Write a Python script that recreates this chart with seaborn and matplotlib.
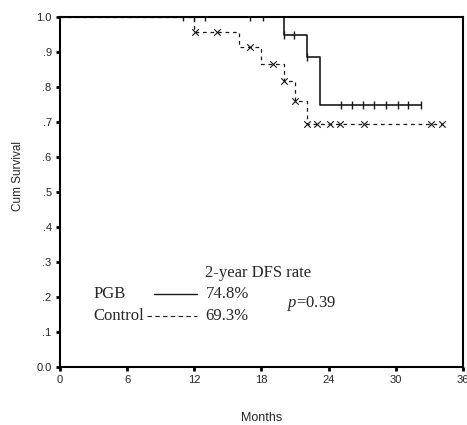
import numpy as np
import pandas as pd
import matplotlib
matplotlib.use("Agg")
import matplotlib.pyplot as plt
import seaborn as sns

# Kaplan-Meier step data
pgb_times = [0, 20.0, 22.1, 23.2, 32.3]
pgb_surv = [1.0, 0.949, 0.886, 0.748, 0.748]
pgb_censored = [11.0, 12.0, 13.0, 17.0, 18.1, 20.0, 20.9, 22.1, 25.1, 26.1, 27.1,
                28.1, 29.1, 30.2, 31.1, 32.3]

ctrl_times = [0, 12.0, 16.0, 18.0, 20.0, 21.0, 22.1, 34.1]
ctrl_surv = [1.0, 0.957, 0.913, 0.867, 0.818, 0.760, 0.693, 0.693]
ctrl_censored = [12.1, 14.0, 17.0, 19.0, 20.0, 21.0, 22.1, 23.0, 24.1, 25.0,
                 27.2, 33.2, 34.1]

y_ticks = [0.0, 0.1, 0.2, 0.3, 0.4, 0.5, 0.6, 0.7, 0.8, 0.9, 1.0]
y_labels = ["0.0", ".1", ".2", ".3", ".4", ".5", ".6", ".7", ".8", ".9", "1.0"]
x_ticks = [0, 6, 12, 18, 24, 30, 36]


def surv_at(times, surv, t):
    idx = np.searchsorted(times, t, side="right") - 1
    return np.array(surv)[idx]


sns.set_style("ticks")
plt.rcParams["font.family"] = ["Liberation Sans", "DejaVu Sans"]
plt.rcParams["mathtext.fontset"] = "custom"
plt.rcParams["mathtext.it"] = "Liberation Serif:italic"
plt.rcParams["mathtext.rm"] = "Liberation Serif"

fig = plt.figure(figsize=(4.67, 4.25), dpi=100)
ax = fig.add_axes([0.1285, 0.1365, 0.8625, 0.8235])

lines = pd.concat([
    pd.DataFrame({"time": pgb_times, "surv": pgb_surv, "group": "PGB"}),
    pd.DataFrame({"time": ctrl_times, "surv": ctrl_surv, "group": "Control"}),
])

sns.lineplot(data=lines[lines.group == "PGB"], x="time", y="surv", ax=ax,
             drawstyle="steps-post", color="#1a1a1a", linewidth=1.2,
             estimator=None, sort=False, zorder=1)
sns.lineplot(data=lines[lines.group == "Control"], x="time", y="surv", ax=ax,
             drawstyle="steps-post", color="#1a1a1a", linewidth=0.9,
             linestyle=(0, (3, 3)), estimator=None, sort=False, zorder=1)

pgb_marks = pd.DataFrame({"time": pgb_censored,
                          "surv": surv_at(pgb_times, pgb_surv, pgb_censored)})
ctrl_marks = pd.DataFrame({"time": ctrl_censored,
                           "surv": surv_at(ctrl_times, ctrl_surv, ctrl_censored)})
sns.scatterplot(data=pgb_marks, x="time", y="surv", ax=ax, marker="|",
                s=40, color="#1a1a1a", linewidth=1.0, zorder=1)
sns.scatterplot(data=ctrl_marks, x="time", y="surv", ax=ax, marker="x",
                s=22, color="#1a1a1a", linewidth=0.8, zorder=1)

ax.set_xlim(0, 36)
ax.set_ylim(0, 1.0)
ax.set_xticks(x_ticks)
ax.set_yticks(y_ticks)
ax.set_yticklabels(y_labels)
ax.tick_params(axis="both", direction="out", length=3, width=2, labelsize=8,
               color="black", pad=3)
for s in ax.spines.values():
    s.set_color("black")
    s.set_linewidth(1.5)
    s.set_zorder(5)

ax.set_xlabel("Months", fontsize=9, va="center", ha="center")
ax.xaxis.set_label_coords(0.501, -0.146)
ax.set_ylabel("Cum Survival", fontsize=8.5, va="center", ha="center")
ax.yaxis.set_label_coords(-0.104, 0.546)

# inline legend in serif, as in the original figure
serif = ["Liberation Serif", "DejaVu Serif"]
ax.text(13.0, 0.269, "2-year DFS rate", family=serif, fontsize=12, va="center")
ax.text(3.0, 0.209, "PGB", family=serif, fontsize=12, va="center")
ax.text(3.0, 0.146, "Control", family=serif, fontsize=12, va="center")
ax.plot([8.4, 12.2], [0.209, 0.209], color="#1a1a1a", linewidth=1.0)
ax.plot([7.8, 12.2], [0.146, 0.146], color="#1a1a1a", linewidth=0.8,
        linestyle=(0, (4, 3)))
ax.text(13.0, 0.209, "74.8%", family=serif, fontsize=12, va="center")
ax.text(13.0, 0.146, "69.3%", family=serif, fontsize=12, va="center")
ax.text(20.3, 0.18, "$p$=0.39", family=serif, fontsize=12, va="center")

fig.savefig("out.png", dpi=100)
